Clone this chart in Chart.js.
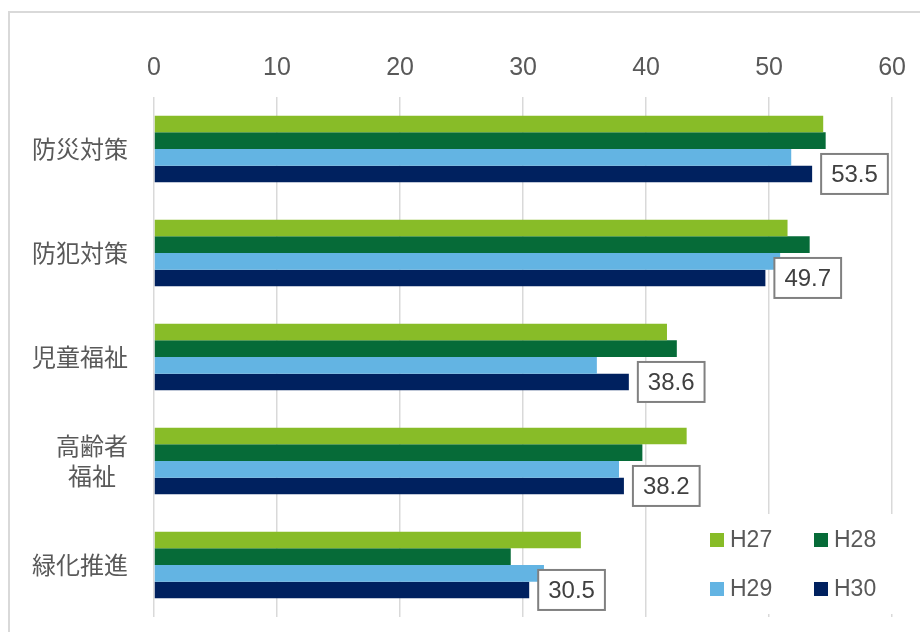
<!DOCTYPE html>
<html>
<head>
<meta charset="utf-8">
<script src="https://cdn.jsdelivr.net/npm/chart.js@4"></script>
<style>
  html, body { margin: 0; padding: 0; background: #fff; }
  #wrap { width: 920px; height: 632px; }
</style>
</head>
<body>
<div id="wrap"><canvas id="barChart" width="920" height="632"></canvas></div>
<script>
var categories = ['防災対策', '防犯対策', '児童福祉', ['高齢者', '福祉\u2002'], '緑化推進'];
var seriesNames = ['H27', 'H28', 'H29', 'H30'];
var h27 = [54.4, 51.5, 41.7, 43.3, 34.7];
var h28 = [54.6, 53.3, 42.5, 39.7, 29.0];
var h29 = [51.8, 50.9, 36.0, 37.8, 31.7];
var h30 = [53.5, 49.7, 38.6, 38.2, 30.5];
var xMin = 0, xMax = 60, xStep = 10;

var colors = ['#88bc28', '#066b38', '#63b4e3', '#00215f'];
var textColor = '#595959';
var latin = "'Liberation Sans', Arial, sans-serif";
var cjk = "'Noto Sans CJK JP', sans-serif";

// white page + light grey frame (cut off on the right and bottom)
var framePlugin = {
    id: 'frame',
    beforeDraw: function (chart) {
        var c = chart.ctx;
        c.save();
        c.fillStyle = '#fff';
        c.fillRect(0, 0, chart.width, chart.height);
        c.strokeStyle = '#d9d9d9';
        c.lineWidth = 2;
        c.strokeRect(9, 12, 1000, 1000);
        c.restore();
    }
};

// boxed value labels on the H30 bars
var boxLabels = {
    id: 'boxLabels',
    afterDatasetsDraw: function (chart) {
        var c = chart.ctx;
        var meta = chart.getDatasetMeta(3);
        c.save();
        c.font = '24px ' + latin;
        c.textAlign = 'center';
        c.textBaseline = 'middle';
        meta.data.forEach(function (bar, i) {
            var txt = h30[i].toFixed(1);
            var w = c.measureText(txt).width + 20;
            var h = 40;
            var x = bar.x + 9;
            var y = bar.y - h / 2;
            c.fillStyle = '#fff';
            c.fillRect(x, y, w, h);
            c.strokeStyle = '#808080';
            c.lineWidth = 2;
            c.strokeRect(x, y, w, h);
            c.fillStyle = '#404040';
            c.fillText(txt, x + w / 2, bar.y + 1);
        });
        c.restore();
    }
};

// 2x2 legend inside the bottom right of the plot
var legendBox = {
    id: 'legendBox',
    afterDraw: function (chart) {
        var c = chart.ctx;
        c.save();
        c.fillStyle = '#fff';
        c.fillRect(700, 514, 212, 100);
        c.font = '23px ' + latin;
        c.textBaseline = 'middle';
        c.textAlign = 'left';
        var pos = [[710, 540], [814, 540], [710, 589], [814, 589]];
        seriesNames.forEach(function (name, i) {
            var p = pos[i];
            c.fillStyle = colors[i];
            c.fillRect(p[0], p[1] - 7, 14, 14);
            c.fillStyle = textColor;
            c.fillText(name, p[0] + 20, p[1] + 1);
        });
        c.restore();
    }
};

var ctx = document.getElementById('barChart').getContext('2d');
var barChart = new Chart(ctx, {
    type: 'bar',
    data: {
        labels: categories,
        datasets: [h27, h28, h29, h30].map(function (vals, i) {
            return {
                label: seriesNames[i],
                data: vals,
                backgroundColor: colors[i],
                borderWidth: 0,
                categoryPercentage: 0.64,
                barPercentage: 1.0
            };
        })
    },
    options: {
        indexAxis: 'y',
        responsive: false,
        animation: false,
        layout: { padding: { left: 0, right: 25, top: 0, bottom: 15 } },
        plugins: {
            legend: { display: false },
            tooltip: { enabled: false }
        },
        scales: {
            x: {
                position: 'top',
                min: xMin,
                max: xMax,
                afterFit: function (scale) { scale.height = 97; },
                grid: { color: '#d9d9d9', lineWidth: 1.5, drawTicks: false },
                border: { display: false },
                ticks: {
                    stepSize: xStep,
                    padding: 14,
                    color: textColor,
                    font: { family: latin, size: 25 }
                }
            },
            y: {
                afterFit: function (scale) {
                    scale.width = 154;
                    scale.paddingTop = 0;
                    scale.paddingBottom = 0;
                },
                grid: { display: false, drawTicks: false },
                border: { display: false },
                ticks: {
                    padding: 26,
                    color: textColor,
                    font: { family: cjk, size: 24, lineHeight: 1.25 }
                }
            }
        }
    },
    plugins: [framePlugin, boxLabels, legendBox]
});
</script>
</body>
</html>
